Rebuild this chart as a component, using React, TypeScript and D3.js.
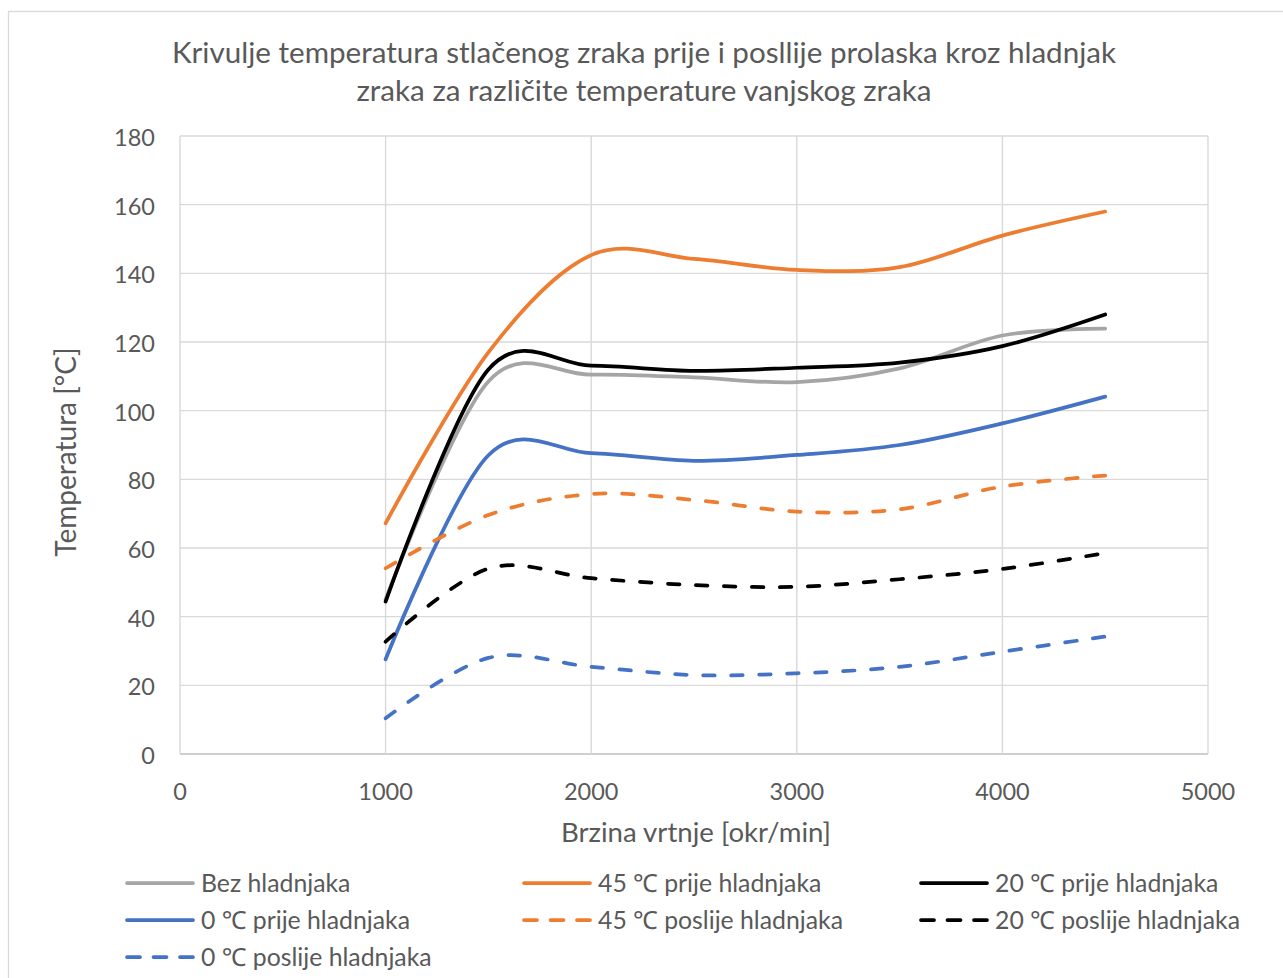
import * as React from 'react';
import * as d3 from 'd3';

// brzina vrtnje (okr/min)
const rpm = [1000, 1500, 2000, 2500, 3000, 3500, 4000, 4500];

// temperature [°C]
const bezHladnjaka = [45, 108.5, 110.5, 109.7, 108.3, 112.3, 121.9, 123.9];
const prije45 = [67.2, 117, 145.3, 144.2, 141, 141.8, 151, 158];
const prije20 = [44.4, 112, 113.1, 111.6, 112.5, 114, 118.8, 128];
const prije0 = [27.6, 87, 87.6, 85.4, 87.1, 90, 96.3, 104.1];
const poslije45 = [54.1, 69.6, 75.7, 74, 70.6, 71.3, 77.9, 81.1];
const poslije20 = [32.7, 54, 51.2, 49.2, 48.7, 50.9, 53.9, 58.5];
const poslije0 = [10.4, 28, 25.4, 23, 23.5, 25.4, 29.8, 34.2];

const xTicks = [0, 1000, 2000, 3000, 4000, 5000];
const yTicks = [0, 20, 40, 60, 80, 100, 120, 140, 160, 180];

const titleLines = [
  'Krivulje temperatura stlačenog zraka prije i posllije prolaska kroz hladnjak',
  'zraka za različite temperature vanjskog zraka',
];

interface Series {
  name: string;
  values: number[];
  color: string;
  dashed: boolean;
}

const series: Series[] = [
  { name: 'Bez hladnjaka', values: bezHladnjaka, color: '#A5A5A5', dashed: false },
  { name: '45 ℃ prije hladnjaka', values: prije45, color: '#ED7D31', dashed: false },
  { name: '20 ℃ prije hladnjaka', values: prije20, color: '#000000', dashed: false },
  { name: '0 ℃ prije hladnjaka', values: prije0, color: '#4472C4', dashed: false },
  { name: '45 ℃ poslije hladnjaka', values: poslije45, color: '#ED7D31', dashed: true },
  { name: '20 ℃ poslije hladnjaka', values: poslije20, color: '#000000', dashed: true },
  { name: '0 ℃ poslije hladnjaka', values: poslije0, color: '#4472C4', dashed: true },
];

const FONT = 'Lato, "Noto Sans", sans-serif';
const TEXT = '#595959';
const GRID = '#D9D9D9';

export default function App() {
  const plot = { left: 180, right: 1208, top: 136, bottom: 754 };

  const x = d3.scaleLinear().domain([0, 5000]).range([plot.left, plot.right]);
  const y = d3.scaleLinear().domain([0, 180]).range([plot.bottom, plot.top]);

  const line = d3
    .line<number>()
    .x((_, i) => x(rpm[i]))
    .y((d) => y(d))
    .curve(d3.curveCatmullRom.alpha(0));

  const legendCols = [125, 522, 919];
  const legendRows = [883, 920, 957];

  return (
    <svg
      width={1283}
      height={978}
      style={{ position: 'absolute', left: 0, top: 0, background: '#fff' }}
      fontFamily={FONT}
    >
      <rect x={8.5} y={11.5} width={1400} height={1100} fill="#fff" stroke={GRID} strokeWidth={1.3} />

      {titleLines.map((t, i) => (
        <text key={i} x={644} y={63 + i * 38} textAnchor="middle" fontSize={29.6} fill={TEXT}>
          {t}
        </text>
      ))}

      {/* grid */}
      <g>
        {yTicks.map((v) => (
          <line
            key={'gy' + v}
            x1={plot.left}
            x2={plot.right}
            y1={y(v)}
            y2={y(v)}
            stroke={v === 0 ? '#BFBFBF' : GRID}
            strokeWidth={1.4}
          />
        ))}
        {xTicks.map((v) => (
          <line key={'gx' + v} x1={x(v)} x2={x(v)} y1={plot.top} y2={plot.bottom} stroke={GRID} strokeWidth={1.4} />
        ))}
      </g>

      {/* tick labels */}
      {yTicks.map((v) => (
        <text key={'ty' + v} x={155} y={y(v) + 10} textAnchor="end" fontSize={23.5} fill={TEXT}>
          {v}
        </text>
      ))}
      {xTicks.map((v) => (
        <text key={'tx' + v} x={x(v)} y={800} textAnchor="middle" fontSize={23.5} fill={TEXT}>
          {v}
        </text>
      ))}

      {/* axis titles */}
      <text x={696} y={842} textAnchor="middle" fontSize={27.6} fill={TEXT}>
        Brzina vrtnje [okr/min]
      </text>
      <text
        transform={`translate(${76}, ${452}) rotate(-90)`}
        textAnchor="middle"
        fontSize={28}
        fill={TEXT}
      >
        Temperatura [°C]
      </text>

      {/* series */}
      {series.map((s, i) => (
        <path
          key={i}
          d={line(s.values) || ''}
          fill="none"
          stroke={s.color}
          strokeWidth={3.75}
          strokeLinecap="round"
          strokeLinejoin="round"
          strokeDasharray={s.dashed ? '11.5 16.5' : undefined}
        />
      ))}

      {/* legend */}
      {series.map((s, i) => {
        const lx = legendCols[i % 3];
        const ly = legendRows[Math.floor(i / 3)];
        return (
          <g key={'lg' + i} transform={`translate(${lx}, ${ly})`}>
            <line
              x1={2}
              x2={68}
              y1={0}
              y2={0}
              stroke={s.color}
              strokeWidth={3.75}
              strokeLinecap="round"
              strokeDasharray={s.dashed ? '13 13.5' : undefined}
            />
            <text x={76} y={8.5} fontSize={24.8} fill={TEXT}>
              {s.name}
            </text>
          </g>
        );
      })}
    </svg>
  );
}
